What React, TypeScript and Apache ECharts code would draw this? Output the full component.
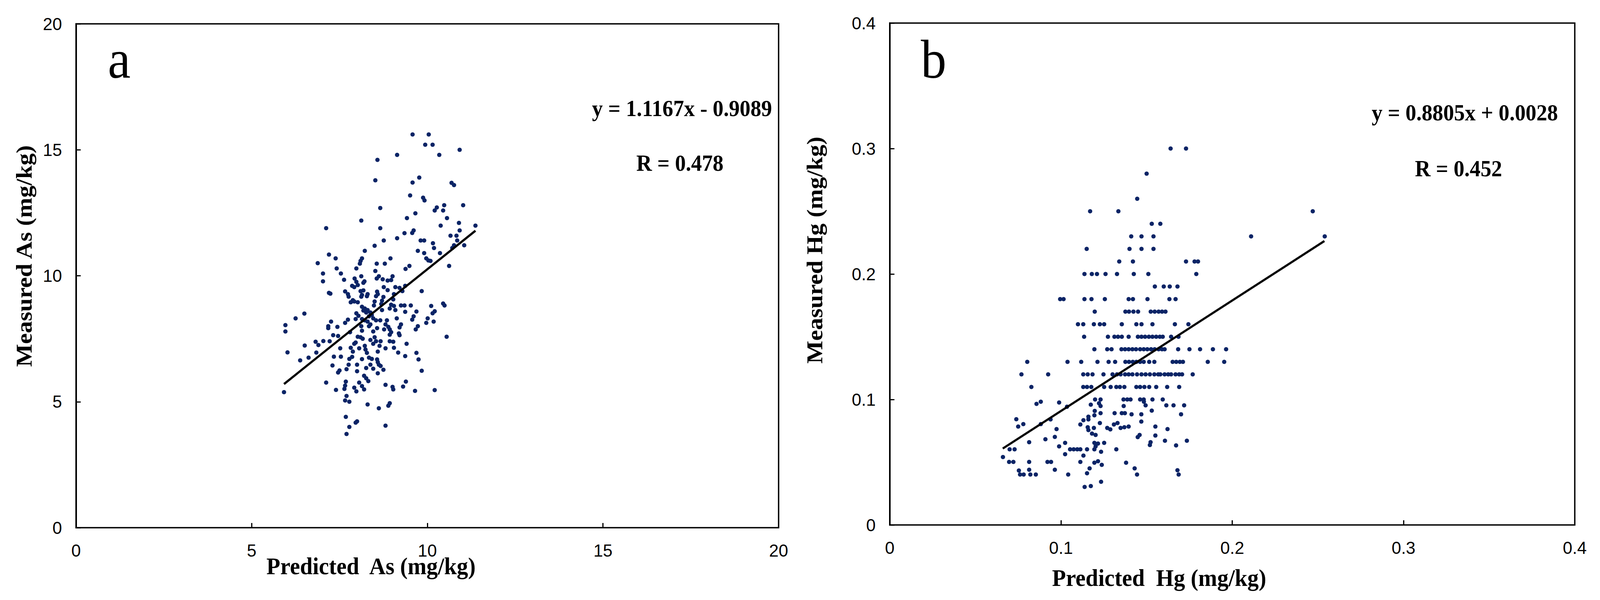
import React, { useEffect, useRef } from "react";
import * as echarts from "echarts";

// ---------- Panel a: Arsenic ----------
const asTicks = [0, 5, 10, 15, 20];
const asSlope = 1.1167;
const asIntercept = -0.9089;
const asR = 0.478;
const asFitRange = [5.92, 11.37];
const asPoints: [number, number][] = [
  [9.58, 15.61], [10.04, 15.61], [9.94, 15.2], [10.15, 15.2], [10.92, 15.0], [9.14, 14.8], [10.34, 14.8],
  [8.58, 14.6], [8.52, 13.79], [9.77, 13.9], [9.58, 13.7], [10.69, 13.69], [10.76, 13.6], [9.51, 13.19],
  [9.88, 13.1], [9.92, 12.99], [8.66, 12.69], [10.27, 12.71], [10.21, 12.59], [10.48, 12.8], [10.45, 12.59],
  [11.02, 12.8], [9.66, 12.48], [9.42, 12.29], [10.56, 12.29], [8.12, 12.19], [7.12, 11.89], [8.66, 11.89],
  [10.38, 11.99], [10.9, 12.1], [11.37, 11.99], [9.61, 11.8], [9.57, 11.7], [9.35, 11.69], [10.92, 11.8],
  [10.66, 11.59], [10.83, 11.59], [9.14, 11.49], [8.76, 11.4], [9.81, 11.4], [9.91, 11.4], [10.85, 11.4],
  [10.16, 11.29], [10.19, 11.1], [10.71, 11.1], [10.76, 11.21], [11.05, 11.21], [8.5, 11.19], [8.22, 10.99],
  [9.73, 10.99], [9.91, 10.9], [10.36, 10.9], [7.2, 10.84], [7.39, 10.69], [8.95, 10.69], [8.14, 10.69],
  [8.1, 10.59], [8.08, 10.48], [6.88, 10.5], [8.56, 10.48], [8.79, 10.48], [9.97, 10.69], [10.03, 10.61],
  [10.09, 10.59], [10.62, 10.39], [9.49, 10.39], [9.38, 10.27], [7.42, 10.29], [7.98, 10.29], [7.03, 10.09],
  [7.54, 10.09], [8.52, 10.19], [8.12, 9.98], [8.62, 9.98], [8.56, 9.89], [8.73, 9.86], [9.01, 9.98],
  [8.97, 9.83], [8.87, 9.81], [7.63, 9.84], [7.93, 9.89], [7.98, 9.76], [8.21, 9.78], [8.18, 9.72],
  [7.03, 9.78], [7.86, 9.6], [7.92, 9.55], [8.02, 9.63], [8.76, 9.55], [9.09, 9.55], [9.21, 9.52], [9.37, 9.6],
  [9.84, 9.39], [7.24, 9.29], [7.2, 9.32], [7.66, 9.38], [7.74, 9.27], [7.76, 9.17], [8.1, 9.39], [8.18, 9.42],
  [8.14, 9.24], [8.3, 9.27], [8.12, 9.17], [8.28, 9.19], [8.57, 9.37], [8.54, 9.19], [8.59, 9.27], [8.87, 9.43],
  [9.29, 9.39], [9.05, 9.27], [9.03, 9.06], [8.75, 9.16], [8.71, 9.01], [8.69, 8.88], [7.82, 8.95], [7.92, 8.98],
  [8.02, 8.95], [7.88, 9.03], [8.5, 8.98], [8.48, 8.82], [8.14, 8.77], [8.22, 8.7], [8.3, 8.64], [8.38, 8.54],
  [8.26, 8.54], [8.18, 8.62], [7.98, 8.51], [8.04, 8.41], [7.96, 8.28], [8.42, 8.44], [8.34, 8.39], [8.97, 8.85],
  [9.05, 8.8], [8.93, 8.7], [9.09, 8.64], [8.71, 8.64], [9.25, 8.82], [9.35, 8.82], [9.53, 8.82], [9.37, 8.57],
  [9.69, 8.58], [10.11, 8.8], [10.45, 8.9], [10.49, 8.82], [10.21, 8.59], [10.15, 8.51], [6.5, 8.5], [6.25, 8.31],
  [5.96, 8.04], [5.96, 7.79], [7.74, 8.26], [7.66, 8.13], [7.26, 8.18], [7.18, 8.0], [7.18, 7.92], [7.44, 7.97],
  [8.14, 8.28], [8.22, 8.23], [8.3, 8.18], [8.38, 8.07], [8.34, 8.0], [8.46, 8.31], [8.54, 8.23], [8.66, 8.23],
  [8.85, 8.23], [8.81, 8.07], [8.89, 7.97], [8.93, 7.87], [8.97, 7.76], [8.93, 7.66], [8.77, 7.87], [8.57, 7.92],
  [8.46, 7.79], [8.12, 8.0], [8.14, 7.82], [9.13, 8.31], [9.25, 8.07], [9.21, 7.95], [9.61, 8.39], [9.57, 8.26],
  [10.01, 8.31], [9.97, 8.13], [10.18, 8.18], [9.73, 8.0], [9.67, 7.87], [7.8, 7.76], [7.32, 7.64], [7.46, 7.61],
  [8.02, 7.58], [8.1, 7.56], [8.16, 7.5], [9.19, 7.71], [9.21, 7.64], [10.55, 7.58], [6.82, 7.38], [6.9, 7.25],
  [7.04, 7.41], [7.22, 7.4], [6.51, 7.23], [6.02, 6.96], [7.96, 7.35], [7.92, 7.3], [8.38, 7.45], [8.5, 7.56],
  [8.54, 7.4], [8.46, 7.3], [8.67, 7.4], [8.64, 7.22], [8.93, 7.4], [9.03, 7.38], [7.52, 7.12], [7.82, 7.14],
  [7.88, 6.99], [8.06, 7.12], [8.22, 7.22], [8.24, 7.07], [8.28, 6.94], [8.81, 7.12], [9.05, 7.14], [9.41, 7.3],
  [6.84, 6.95], [8.59, 6.99], [9.17, 6.95], [9.37, 6.81], [9.69, 6.94], [9.75, 6.68], [6.62, 6.75], [6.38, 6.64],
  [7.34, 6.79], [7.54, 6.79], [7.78, 6.7], [7.86, 6.78], [8.14, 6.69], [8.34, 6.75], [8.42, 6.7], [8.57, 6.68],
  [8.59, 6.57], [7.3, 6.44], [7.76, 6.47], [7.7, 6.29], [8.0, 6.47], [8.0, 6.21], [8.26, 6.34], [8.38, 6.47],
  [8.46, 6.31], [8.62, 6.47], [8.67, 6.42], [8.75, 6.27], [9.84, 6.23], [7.5, 6.24], [7.46, 6.16], [8.59, 6.13],
  [8.2, 6.03], [8.26, 5.93], [8.32, 5.82], [5.92, 5.38], [7.12, 5.76], [7.68, 5.8], [7.66, 5.64], [7.64, 5.51],
  [8.06, 5.76], [8.14, 5.62], [8.2, 5.49], [7.92, 5.56], [7.98, 5.41], [7.4, 5.47], [8.81, 5.67], [9.01, 5.59],
  [9.03, 5.49], [9.31, 5.6], [9.39, 5.8], [9.65, 5.43], [10.21, 5.46], [7.7, 5.23], [7.66, 5.05], [7.78, 5.0],
  [8.3, 4.89], [8.62, 4.74], [8.93, 4.94], [8.89, 4.84], [7.68, 4.4], [7.78, 4.0], [7.96, 4.17], [8.0, 4.22],
  [8.81, 4.05], [7.7, 3.72],
];

// ---------- Panel b: Mercury ----------
const hgTicks = [0, 0.1, 0.2, 0.3, 0.4];
const hgSlope = 0.8805;
const hgIntercept = 0.0028;
const hgR = 0.452;
const hgFitRange = [0.066, 0.2538];
// measured values reported in 0.01 steps: [measured, predicted values...]
const hgRows: [number, number[]][] = [
  [0.30, [0.164, 0.173]],
  [0.28, [0.150]],
  [0.26, [0.1445]],
  [0.25, [0.117, 0.1335, 0.247]],
  [0.24, [0.153, 0.158]],
  [0.23, [0.141, 0.147, 0.154, 0.211, 0.254]],
  [0.22, [0.115, 0.140, 0.147, 0.154]],
  [0.21, [0.134, 0.142, 0.173, 0.178, 0.180]],
  [0.20, [0.1137, 0.118, 0.121, 0.126, 0.1327, 0.1425, 0.151, 0.179]],
  [0.19, [0.1548, 0.160, 0.1635, 0.168]],
  [0.18, [0.0995, 0.1015, 0.1137, 0.1178, 0.1256, 0.1395, 0.142, 0.1505, 0.1633, 0.1669]],
  [0.17, [0.1197, 0.1376, 0.1397, 0.1423, 0.145, 0.1524, 0.1547, 0.157, 0.159, 0.161]],
  [0.16, [0.1099, 0.113, 0.1192, 0.1227, 0.1252, 0.1355, 0.144, 0.147, 0.1534, 0.1665, 0.1744]],
  [0.15, [0.1135, 0.1274, 0.1312, 0.1333, 0.1355, 0.1395, 0.1449, 0.147, 0.1491, 0.1513, 0.1534, 0.1556, 0.1577, 0.1594, 0.1643, 0.1686]],
  [0.14, [0.1195, 0.127, 0.1295, 0.1353, 0.1374, 0.1395, 0.1417, 0.1438, 0.1462, 0.1483, 0.1504, 0.1526, 0.1547, 0.157, 0.159, 0.1605, 0.1684, 0.175, 0.1812, 0.1887, 0.1964]],
  [0.13, [0.0803, 0.1038, 0.1118, 0.1213, 0.1278, 0.1316, 0.1376, 0.1397, 0.1419, 0.144, 0.1462, 0.1483, 0.1515, 0.1545, 0.1652, 0.1673, 0.1694, 0.1712, 0.1857, 0.1953]],
  [0.12, [0.0769, 0.0925, 0.113, 0.1156, 0.1184, 0.1248, 0.1301, 0.1327, 0.1348, 0.1374, 0.1395, 0.1417, 0.1444, 0.147, 0.1494, 0.1519, 0.1545, 0.1568, 0.158, 0.1605, 0.1626, 0.1643, 0.1669, 0.169, 0.1707, 0.1769]],
  [0.11, [0.0827, 0.113, 0.1152, 0.1177, 0.1252, 0.129, 0.1323, 0.1344, 0.137, 0.144, 0.1462, 0.1487, 0.1515, 0.1556, 0.162, 0.169]],
  [0.10, [0.1199, 0.1231, 0.1365, 0.1387, 0.1406, 0.1462, 0.1483, 0.1534, 0.1594]],
];
const hgLowPoints: [number, number][] = [
  [0.1174, 0.0959], [0.1222, 0.097], [0.1231, 0.0948], [0.1366, 0.0948], [0.1484, 0.0982], [0.1494, 0.0953],
  [0.153, 0.0911], [0.1197, 0.0909], [0.1195, 0.0874], [0.1231, 0.0891], [0.1313, 0.0891], [0.1355, 0.0891],
  [0.1373, 0.0891], [0.1412, 0.0882], [0.1469, 0.0882], [0.116, 0.0863], [0.116, 0.0841], [0.1131, 0.0835],
  [0.1113, 0.0801], [0.1227, 0.0812], [0.1469, 0.0824], [0.127, 0.0773], [0.1288, 0.0762], [0.1309, 0.0801],
  [0.133, 0.0812], [0.1348, 0.0773], [0.137, 0.0779], [0.1395, 0.0784], [0.1551, 0.0784], [0.1156, 0.0779],
  [0.116, 0.0756], [0.1192, 0.0773], [0.1181, 0.0728], [0.1202, 0.0717], [0.1459, 0.0717], [0.1448, 0.07],
  [0.1551, 0.0713], [0.1523, 0.066], [0.1519, 0.0637], [0.1195, 0.0654], [0.1216, 0.0649], [0.1252, 0.0654],
  [0.1202, 0.0626], [0.0739, 0.0843], [0.075, 0.0784], [0.078, 0.0804], [0.0882, 0.0804], [0.0939, 0.0841],
  [0.0974, 0.0764], [0.0964, 0.0702], [0.0909, 0.0683], [0.0814, 0.066], [0.1024, 0.0654], [0.0989, 0.0626],
  [0.07, 0.0603], [0.0729, 0.0603], [0.0661, 0.0541], [0.0697, 0.0502], [0.0722, 0.0502], [0.0814, 0.0502],
  [0.0921, 0.0502], [0.0942, 0.0502], [0.1053, 0.0603], [0.1074, 0.0603], [0.1095, 0.0603], [0.1113, 0.0603],
  [0.1152, 0.0603], [0.1195, 0.0603], [0.1234, 0.0583], [0.1323, 0.0603], [0.1024, 0.0564], [0.1131, 0.0553],
  [0.1113, 0.0502], [0.1195, 0.0496], [0.1216, 0.0508], [0.1238, 0.0479], [0.138, 0.0496], [0.0754, 0.0434],
  [0.0814, 0.044], [0.0964, 0.044], [0.1167, 0.0451], [0.1152, 0.0412], [0.143, 0.0451], [0.1444, 0.0402],
  [0.0761, 0.0402], [0.0782, 0.0402], [0.0821, 0.0402], [0.0853, 0.0402], [0.1042, 0.0402], [0.1234, 0.0344],
  [0.1138, 0.0303], [0.1174, 0.031], [0.0857, 0.0965], [0.0882, 0.0982], [0.0989, 0.0976], [0.1035, 0.0942],
  [0.1615, 0.0953], [0.1657, 0.0953], [0.1719, 0.0953], [0.1701, 0.0882], [0.1622, 0.0764], [0.1607, 0.0671],
  [0.1735, 0.0671], [0.1672, 0.0634], [0.168, 0.0436], [0.1687, 0.0402],
];

const DOT = "#0b2466";
const SANS = '"Liberation Sans Narrow", "Liberation Sans", Arial, sans-serif';
const SERIF = '"Liberation Serif", "Times New Roman", serif';
const REF_W = 4377;
const REF_H = 1535;

function fitLine(slope: number, intercept: number, range: number[]) {
  return range.map((x) => [x, slope * x + intercept]);
}

function makeAxes(gridIndex: number, ticks: number[], fmt: (v: number) => string, fs: number, sy: number) {
  const min = ticks[0];
  const max = ticks[ticks.length - 1];
  const interval = ticks[1] - ticks[0];
  const common = {
    gridIndex,
    type: "value" as const,
    min,
    max,
    interval,
    splitLine: { show: false },
  };
  const x = {
    ...common,
    position: "bottom",
    axisLine: {
      show: true,
      onZero: false,
      lineStyle: { color: "#000", width: 6, shadowColor: "rgba(0,0,0,0.35)", shadowOffsetY: 3, shadowBlur: 2 },
    },
    axisTick: { show: true, inside: true, length: 12, lineStyle: { color: "#000", width: 3 } },
    axisLabel: { margin: Math.round(36 * sy), fontSize: fs, fontFamily: SANS, color: "#000", formatter: fmt },
  };
  const xTop = {
    ...common,
    position: "top",
    axisLine: {
      show: true,
      onZero: false,
      lineStyle: { color: "#000", width: 5, shadowColor: "rgba(0,0,0,0.3)", shadowOffsetY: 3, shadowBlur: 2 },
    },
    axisTick: { show: false },
    axisLabel: { show: false },
  };
  const y = {
    ...common,
    position: "left",
    axisLine: { show: true, onZero: false, lineStyle: { color: "#000", width: 4 } },
    axisTick: { show: true, inside: true, length: 12, lineStyle: { color: "#000", width: 3 } },
    axisLabel: { margin: 36, fontSize: fs, fontFamily: SANS, color: "#000", formatter: fmt },
  };
  return { x, xTop, y };
}

export default function App() {
  const ref = useRef<HTMLDivElement>(null);

  useEffect(() => {
    const el = ref.current;
    if (!el) return;
    const chart = echarts.init(el, undefined, { renderer: "svg" });

    const W = el.clientWidth || REF_W;
    const H = el.clientHeight || REF_H;
    const sx = W / REF_W;
    const sy = H / REF_H;
    const X = (v: number) => v * sx;
    const Y = (v: number) => v * sy;

    const hgPoints: [number, number][] = [];
    hgRows.forEach(([y, xs]) => xs.forEach((x) => hgPoints.push([x, y])));
    hgLowPoints.forEach((p) => hgPoints.push(p));

    const intFmt = (v: number) => String(Math.round(v));
    const decFmt = (v: number) => (Math.abs(v) < 1e-9 ? "0" : v.toFixed(1));
    const fs = Math.round(44 * sy);
    const a = makeAxes(0, asTicks, intFmt, fs, sy);
    const b = makeAxes(1, hgTicks, decFmt, fs, sy);

    const titleFont = `bold ${Math.round(62 * sy)}px ${SERIF}`;
    const eqFont = `bold ${Math.round(59 * sy)}px ${SERIF}`;
    const letterFont = `${Math.round(140 * sy)}px ${SERIF}`;

    const txt = (x: number, y: number, text: string, font: string, align: string, vAlign: string, rot = 0) => ({
      type: "text",
      x: X(x),
      y: Y(y),
      rotation: rot,
      scaleX: rot ? 1 : sx,
      scaleY: rot ? sx : 1,
      style: { text, font, fill: "#000", textAlign: align, textVerticalAlign: vAlign },
    });

    chart.setOption({
      animation: false,
      backgroundColor: "#fff",
      grid: [
        { left: X(208), top: Y(61), width: X(1922), height: Y(1289), show: true, borderColor: "#000", borderWidth: 3.5, backgroundColor: "transparent" },
        { left: X(2434), top: Y(59), width: X(1874), height: Y(1284), show: true, borderColor: "#000", borderWidth: 3.5, backgroundColor: "transparent" },
      ],
      xAxis: [a.x, a.xTop, b.x, b.xTop],
      yAxis: [a.y, b.y],
      series: [
        {
          type: "scatter",
          xAxisIndex: 0,
          yAxisIndex: 0,
          data: asPoints,
          symbol: "circle",
          symbolSize: 11,
          itemStyle: { color: DOT, opacity: 1 },
          z: 2,
        },
        {
          type: "line",
          xAxisIndex: 0,
          yAxisIndex: 0,
          data: fitLine(asSlope, asIntercept, asFitRange),
          showSymbol: false,
          symbol: "none",
          lineStyle: { color: "#000", width: 5.5 },
          z: 3,
        },
        {
          type: "scatter",
          xAxisIndex: 2,
          yAxisIndex: 1,
          data: hgPoints,
          symbol: "circle",
          symbolSize: 11,
          itemStyle: { color: DOT, opacity: 1 },
          z: 2,
        },
        {
          type: "line",
          xAxisIndex: 2,
          yAxisIndex: 1,
          data: fitLine(hgSlope, hgIntercept, hgFitRange),
          showSymbol: false,
          symbol: "none",
          lineStyle: { color: "#000", width: 5.5 },
          z: 3,
        },
      ],
      graphic: [
        txt(326, 222, "a", letterFont, "center", "bottom"),
        txt(2554, 222, "b", letterFont, "center", "bottom"),
        txt(2112, 277, `y = ${asSlope.toFixed(4)}x - ${Math.abs(asIntercept).toFixed(4)}`, eqFont, "right", "middle"),
        txt(1860, 417, `R = ${asR.toFixed(3)}`, eqFont, "center", "middle"),
        txt(4262, 288, `y = ${hgSlope.toFixed(4)}x + ${hgIntercept.toFixed(4)}`, eqFont, "right", "middle"),
        txt(3990, 431, `R = ${hgR.toFixed(3)}`, eqFont, "center", "middle"),
        txt(1015, 1448, "Predicted  As (mg/kg)", titleFont, "center", "middle"),
        txt(3171, 1478, "Predicted  Hg (mg/kg)", titleFont, "center", "middle"),
        txt(65, 655, "Measured As (mg/kg)", titleFont, "center", "middle", Math.PI / 2),
        txt(2228, 640, "Measured Hg (mg/kg)", titleFont, "center", "middle", Math.PI / 2),
      ],
    });

    return () => chart.dispose();
  }, []);

  return (
    <div
      ref={ref}
      style={{ position: "fixed", left: 0, top: 0, width: "100vw", height: "100vh", background: "#fff" }}
    />
  );
}
